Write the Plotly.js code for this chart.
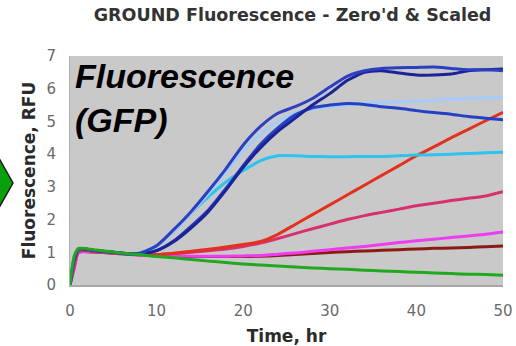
<!DOCTYPE html>
<html>
<head>
<meta charset="utf-8">
<script src="https://cdn.plot.ly/plotly-3.0.1.min.js"></script>
<style>html,body{margin:0;padding:0;background:#fff;}#chart{width:516px;height:346px;}</style>
</head>
<body>
<div id="chart"></div>
<script>
var time = [0,0.5,1,3,5,7,8,10,12,14,16,18,20,22,24,26,28,30,32,34,36,38,40,42,44,46,48,50];

var navyEarly = [0,0.8,1.1,1.05,1.0,0.95,0.97,1.2,1.7,2.25,2.88,3.55,4.28,4.85,5.25,5.45,5.7,6.05,6.38,6.55,6.62,6.64,6.65,6.66,6.62,6.58,6.58,6.55];
var lightBlue = [0,0.8,1.1,1.05,1.0,0.95,0.97,1.2,1.65,2.2,2.8,3.45,4.1,4.6,5.0,5.25,5.38,5.45,5.5,5.55,5.58,5.6,5.62,5.65,5.68,5.7,5.72,5.74];
var cyan = [0,0.85,1.1,1.05,1.0,0.95,0.97,1.2,1.65,2.2,2.7,3.15,3.5,3.8,3.95,3.95,3.93,3.92,3.92,3.93,3.93,3.95,3.97,3.98,4.0,4.02,4.04,4.06];
var blueLate = [0,0.8,1.1,1.05,1.0,0.95,0.95,1.05,1.35,1.8,2.3,2.95,3.65,4.3,4.8,5.2,5.42,5.5,5.55,5.52,5.45,5.4,5.33,5.27,5.22,5.15,5.1,5.05];
var navyLate = [0,0.8,1.1,1.05,1.0,0.95,0.95,1.05,1.33,1.75,2.25,2.9,3.6,4.2,4.7,5.1,5.5,5.85,6.25,6.5,6.55,6.48,6.42,6.42,6.45,6.55,6.58,6.6];
var red = [0,0.7,1.05,1.02,0.98,0.94,0.93,0.93,0.97,1.03,1.09,1.16,1.24,1.33,1.55,1.85,2.15,2.45,2.75,3.05,3.35,3.65,3.95,4.22,4.5,4.76,5.02,5.28];
var pink = [0,0.6,1.05,1.02,0.98,0.94,0.93,0.93,0.96,1.0,1.05,1.1,1.18,1.28,1.42,1.57,1.72,1.86,2.0,2.12,2.22,2.32,2.42,2.5,2.58,2.65,2.72,2.85];
var magenta = [0,0.5,1.0,1.0,0.97,0.93,0.92,0.9,0.89,0.88,0.88,0.88,0.89,0.9,0.94,0.98,1.03,1.08,1.13,1.18,1.24,1.3,1.35,1.4,1.45,1.5,1.55,1.62];
var maroon = [0,0.6,1.0,1.0,0.97,0.93,0.92,0.9,0.88,0.87,0.87,0.87,0.87,0.88,0.9,0.93,0.96,0.99,1.02,1.04,1.06,1.08,1.1,1.12,1.13,1.15,1.17,1.19];
var green = [0,0.9,1.12,1.07,1.01,0.95,0.93,0.87,0.83,0.78,0.73,0.69,0.64,0.61,0.58,0.55,0.52,0.5,0.48,0.45,0.43,0.41,0.39,0.37,0.35,0.33,0.32,0.3];

var seriesList = [
  {y: maroon, c: '#8a1a14'},
  {y: magenta, c: '#f03cf0'},
  {y: pink, c: '#d8306f'},
  {y: red, c: '#e2311d'},
  {y: cyan, c: '#2cc3ee'},
  {y: lightBlue, c: '#a4ccff'},
  {y: blueLate, c: '#2440c4'},
  {y: navyLate, c: '#1c2396'},
  {y: navyEarly, c: '#2b3fc0'},
  {y: green, c: '#20a81e'}
];

var traces = seriesList.map(function(s){
  return {x: time, y: s.y, type: 'scatter', mode: 'lines',
          line: {color: s.c, width: 3, shape: 'spline', smoothing: 0.6},
          hoverinfo: 'skip', showlegend: false};
});

var L = 70, T = 56, W = 433, H = 229;
function px(x){ return (x - L) / W; }
function py(y){ return (T + H - y) / H; }
var arrowPath = 'M ' + px(-8) + ' ' + py(146) + ' L ' + px(13) + ' ' + py(183) +
                ' L ' + px(-8) + ' ' + py(220) + ' Z';

var layout = {
  width: 516, height: 346,
  margin: {l: L, r: 516 - L - W, t: T, b: 346 - T - H, pad: 0},
  paper_bgcolor: '#ffffff',
  plot_bgcolor: '#c9c9c9',
  font: {family: 'DejaVu Sans, Verdana, sans-serif', color: '#555'},
  title: {text: "GROUND Fluorescence - Zero'd & Scaled",
          font: {family: 'DejaVu Sans, Verdana, sans-serif', size: 17.5, color: '#333', weight: 'bold'},
          x: 0.567, xanchor: 'center', y: 0.958, yanchor: 'middle'},
  xaxis: {range: [0, 50], dtick: 10, tick0: 0, showgrid: false, zeroline: false,
          showline: true, linecolor: '#a8a8a8', linewidth: 2,
          ticks: 'outside', ticklen: 11, tickcolor: 'rgba(0,0,0,0)',
          tickfont: {size: 15, color: '#6a6a6a'},
          title: {text: 'Time, hr', standoff: 15,
                  font: {size: 17, color: '#2a2a2a', weight: 'bold'}}},
  yaxis: {range: [0, 7], dtick: 1, tick0: 0, showgrid: false, zeroline: false,
          showline: true, linecolor: '#b0b0b0', linewidth: 1,
          ticks: 'outside', ticklen: 10, tickcolor: 'rgba(0,0,0,0)',
          tickfont: {size: 15, color: '#6a6a6a'},
          title: {text: 'Fluorescence, RFU', standoff: 6,
                  font: {size: 17, color: '#2a2a2a', weight: 'bold'}}},
  shapes: [{type: 'path', xref: 'paper', yref: 'paper', path: arrowPath,
            fillcolor: '#0aa00a', line: {color: '#1a1a1a', width: 1.5}, layer: 'above'}],
  annotations: [{xref: 'paper', yref: 'paper', x: px(73), y: py(55), xanchor: 'left', yanchor: 'top',
                 align: 'left', showarrow: false,
                 text: '<b><i>Fluorescence<br>(GFP)</i></b>',
                 font: {family: 'Liberation Sans, Arial, sans-serif', size: 34, color: '#000'}}]
};

Plotly.newPlot('chart', traces, layout, {displayModeBar: false, staticPlot: true});
</script>
</body>
</html>
